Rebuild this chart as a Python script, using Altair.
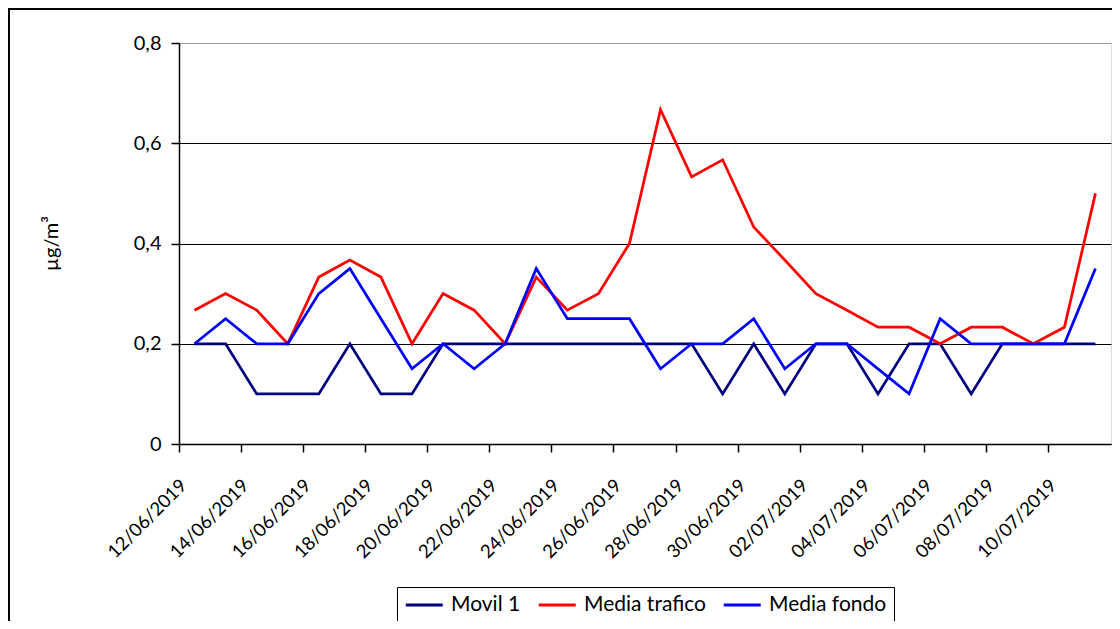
import altair as alt
import pandas as pd

dates = [
    "12/06/2019", "13/06/2019", "14/06/2019", "15/06/2019", "16/06/2019",
    "17/06/2019", "18/06/2019", "19/06/2019", "20/06/2019", "21/06/2019",
    "22/06/2019", "23/06/2019", "24/06/2019", "25/06/2019", "26/06/2019",
    "27/06/2019", "28/06/2019", "29/06/2019", "30/06/2019", "01/07/2019",
    "02/07/2019", "03/07/2019", "04/07/2019", "05/07/2019", "06/07/2019",
    "07/07/2019", "08/07/2019", "09/07/2019", "10/07/2019", "11/07/2019",
]
tick_dates = dates[::2]

movil = [0.2, 0.2, 0.1, 0.1, 0.1, 0.2, 0.1, 0.1, 0.2, 0.2,
         0.2, 0.2, 0.2, 0.2, 0.2, 0.2, 0.2, 0.1, 0.2, 0.1,
         0.2, 0.2, 0.1, 0.2, 0.2, 0.1, 0.2, 0.2, 0.2, 0.2]
trafico = [0.267, 0.3, 0.267, 0.2, 0.333, 0.367, 0.333, 0.2, 0.3, 0.267,
           0.2, 0.333, 0.267, 0.3, 0.4, 0.667, 0.533, 0.567, 0.433, 0.367,
           0.3, 0.267, 0.233, 0.233, 0.2, 0.233, 0.233, 0.2, 0.233, 0.5]
fondo = [0.2, 0.25, 0.2, 0.2, 0.3, 0.35, 0.25, 0.15, 0.2, 0.15,
         0.2, 0.35, 0.25, 0.25, 0.25, 0.15, 0.2, 0.2, 0.25, 0.15,
         0.2, 0.2, 0.15, 0.1, 0.25, 0.2, 0.2, 0.2, 0.2, 0.35]

series_names = ["Movil 1", "Media trafico", "Media fondo"]
series_colors = ["#000080", "#ff0000", "#0000ff"]
y_ticks = [0, 0.2, 0.4, 0.6, 0.8]

rows = []
for name, vals in zip(series_names, [movil, trafico, fondo]):
    for d, v in zip(dates, vals):
        rows.append({"fecha": d, "valor": v, "serie": name})
df = pd.DataFrame(rows)

FONT = "Lato"

lines = alt.Chart(df).mark_line(strokeWidth=2.75).encode(
    x=alt.X(
        "fecha:O",
        sort=dates,
        bandPosition=0.5,
        scale=alt.Scale(type="band", paddingInner=0, paddingOuter=0),
        axis=alt.Axis(
            values=tick_dates, bandPosition=0, title=None,
            labelAngle=315, labelAlign="right", labelBaseline="middle",
            labelPadding=30, labelOffset=-11, tickSize=8, tickColor="black", tickWidth=1.5,
            domainColor="black", domainWidth=1.5, labelColor="black",
            labelFontSize=18.5, labelFont=FONT, grid=False, labelOverlap=False,
        ),
    ),
    y=alt.Y(
        "valor:Q",
        scale=alt.Scale(domain=[0, 0.8], nice=False, zero=True),
        axis=alt.Axis(
            values=y_ticks,
            labelExpr="replace(format(datum.value, '.1~f'), '.', ',')",
            title="µg/m³", titleFont=FONT, titleFontSize=20, titleFontWeight="normal",
            titleColor="black", titleX=-128, titleY=200, titleAngle=270,
            titleAlign="center", titleBaseline="middle",
            tickSize=8, tickColor="black", tickWidth=1.5,
            domainColor="black", domainWidth=1.5,
            labelColor="black", labelFontSize=20, labelFont=FONT, labelPadding=10,
            gridColor=alt.condition("datum.value >= 0.79", alt.value("#9a9a9a"), alt.value("black")),
            gridWidth=1.2,
        ),
    ),
    color=alt.Color(
        "serie:N",
        scale=alt.Scale(domain=series_names, range=series_colors),
        legend=alt.Legend(
            orient="none", legendX=218, legendY=544, direction="horizontal",
            title=None, strokeColor="black", fillColor="white", padding=7,
            symbolType="M-1,0H3", symbolSize=342, symbolStrokeWidth=3,
            labelFontSize=21, labelFont=FONT, labelColor="black",
            columnPadding=11, labelOffset=25, labelLimit=0,
        ),
    ),
)

frame = pd.DataFrame({"k": [0]})
top_border = alt.Chart(frame).mark_rule(color="black", strokeWidth=2).encode(
    x=alt.value(-171), x2=alt.value(935), y=alt.value(-34)
)
left_border = alt.Chart(frame).mark_rule(color="black", strokeWidth=2).encode(
    x=alt.value(-170), y=alt.value(-35), y2=alt.value(580)
)

chart = alt.layer(lines, top_border, left_border).properties(
    width=932, height=401,
    autosize=alt.AutoSizeParams(type="none"),
    padding={"left": 171, "top": 35, "right": 1, "bottom": 177},
).configure_view(
    stroke="#9a9a9a", strokeWidth=2
).configure(background="white")

chart.save("out.html", embed_options={"renderer": "svg", "actions": False})
